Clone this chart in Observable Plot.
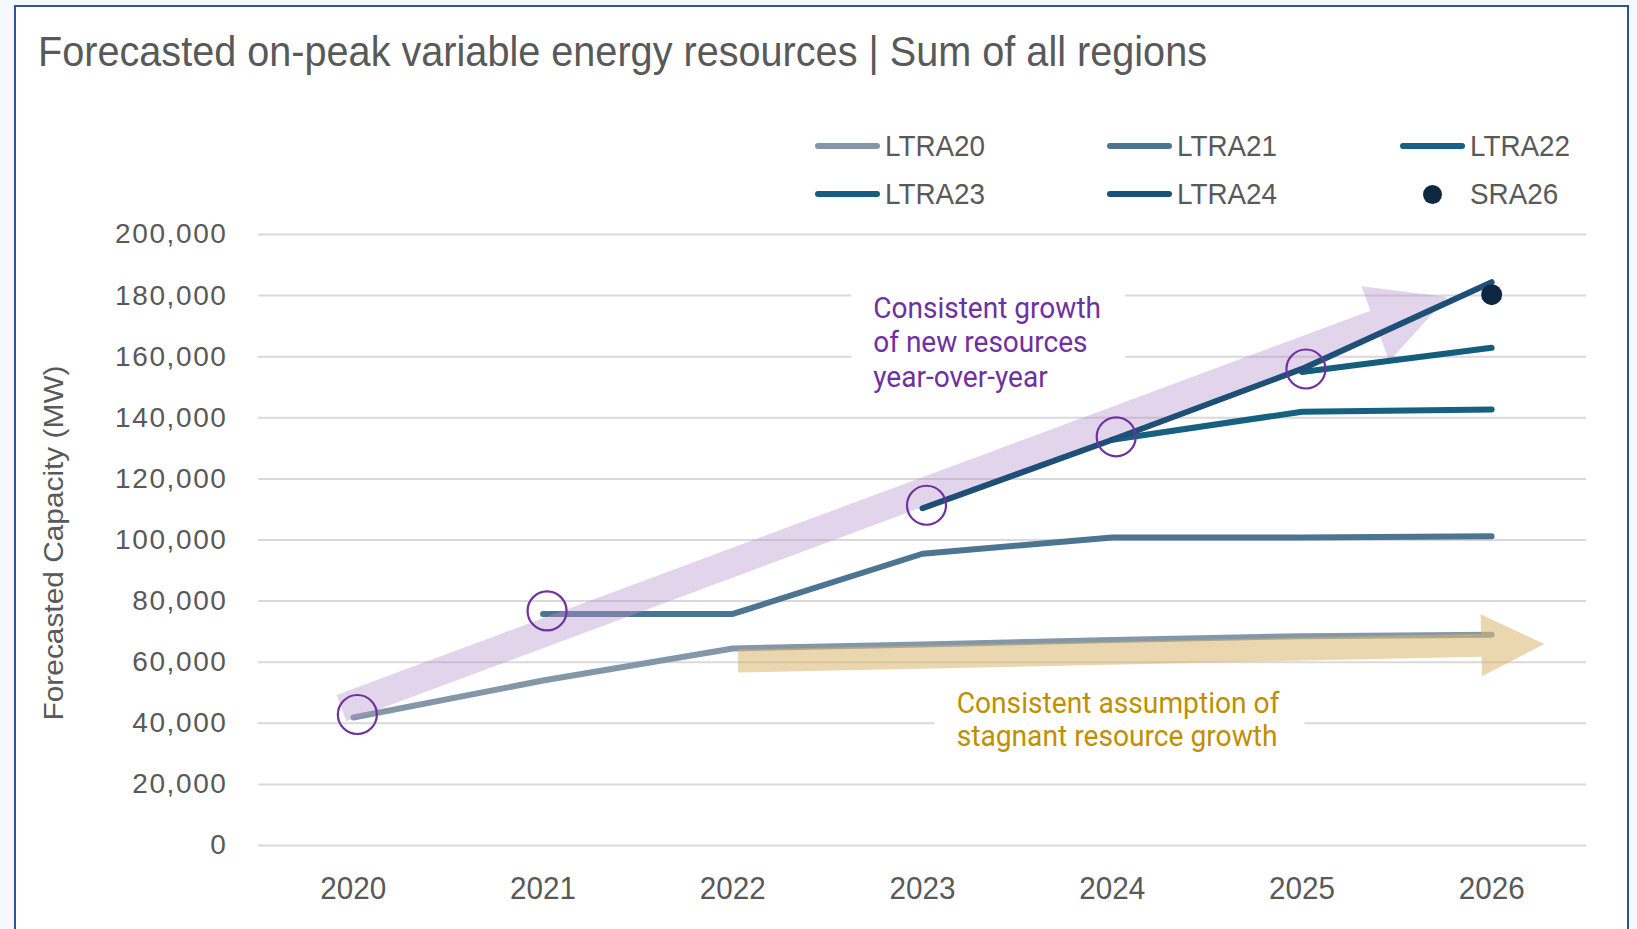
<!DOCTYPE html>
<html><head><meta charset="utf-8">
<script src="https://cdn.jsdelivr.net/npm/d3@7"></script>
<script src="https://cdn.jsdelivr.net/npm/@observablehq/plot@0.6"></script>
<style>
html,body{margin:0;padding:0;}
body{width:1637px;height:929px;overflow:hidden;background:#f4f9fd;position:relative;font-family:"Liberation Sans",Arial,sans-serif;}
#frame{position:absolute;left:14px;top:5px;width:1615px;height:1000px;background:#fff;border:2.5px solid #2f5597;box-sizing:border-box;}
#title{position:absolute;left:38px;top:31px;font-size:42px;line-height:42px;color:#595959;white-space:nowrap;transform-origin:left center;}
.leg{position:absolute;display:flex;align-items:center;height:40px;}
.sw{width:65px;height:6px;border-radius:3px;flex:none;}
.dotbox{width:65px;height:20px;display:flex;justify-content:center;align-items:center;flex:none;}
.dotbox span{display:block;width:19px;height:19px;border-radius:50%;}
.lab{font-size:30px;line-height:30px;color:#595959;white-space:nowrap;transform-origin:left center;margin-left:5px;}
#ylab{position:absolute;left:54px;top:543px;font-size:27px;line-height:27px;color:#595959;white-space:nowrap;}
#chart{position:absolute;left:0;top:210px;}
</style></head><body>
<div id="frame"></div>
<div id="title">Forecasted on-peak variable energy resources | Sum of all regions</div>
<div id="legend"></div>
<div id="ylab">Forecasted Capacity (MW)</div>
<div id="chart"></div>
<script>
// ---------- data ----------
const years = [2020, 2021, 2022, 2023, 2024, 2025, 2026];
const ltra20 = [41900, 54000, 64500, 65800, 67300, 68500, 69000];
const ltra21 = [null, 75800, 75800, 95500, 100800, 100800, 101200];
const ltra22 = [null, null, null, null, 132800, 142000, 142700];
const ltra23 = [null, null, null, null, null, 155000, 162900];
const ltra24 = [null, null, null, 110400, 132800, 156000, 184400];
const sra26  = [null, null, null, null, null, null, 180300];
const seriesNames = ["LTRA20", "LTRA21", "LTRA22", "LTRA23", "LTRA24"];
const sraName = "SRA26";
const yTicks = [0, 20000, 40000, 60000, 80000, 100000, 120000, 140000, 160000, 180000, 200000];
const growthLines = ["Consistent growth", "of new resources", "year-over-year"];
const stagnantLines = ["Consistent assumption of", "stagnant resource growth"];
// annotation anchors (year, MW)
const growthAnchor = [2022.74, 165100];
const stagnantAnchor = [2023.18, 41400];
const growthArrow = {from: [2019.94, 44800], to: [2025.77, 179400]};
const stagnantArrow = {from: [2022.03, 60200], to: [2026.28, 65800]};

// ---------- styles ----------
const seriesColors = ["#8497a9", "#4c7592", "#166080", "#155d7c", "#1e4f77"];
const sraColor = "#0e2841";
const purple = "#7030a0", gold = "#bf8f00";

const seriesValues = [ltra20, ltra21, ltra22, ltra23, ltra24];
const rows = seriesNames.flatMap((name, i) =>
  years.map((year, j) => ({series: name, year, value: seriesValues[i][j]})).filter(d => d.value != null));
const sraRows = years.map((year, j) => ({year, value: sra26[j]})).filter(d => d.value != null);
const starts = seriesNames.map(n => rows.find(d => d.series === n));

const svgNS = "http://www.w3.org/2000/svg";
function arrowMark(spec, o) {
  return (index, scales) => {
    const x0 = scales.x(spec.from[0]), y0 = scales.y(spec.from[1]);
    const x1 = scales.x(spec.to[0]), y1 = scales.y(spec.to[1]);
    const dx = x1 - x0, dy = y1 - y0, L = Math.hypot(dx, dy);
    const ux = dx / L, uy = dy / L, px = -uy, py = ux;
    const bx = x1 - ux * o.headLength, by = y1 - uy * o.headLength;
    const w = o.bodyHalf, h = o.headHalf;
    const pts = [[x0 + px * w, y0 + py * w], [bx + px * w, by + py * w], [bx + px * h, by + py * h], [x1, y1],
                 [bx - px * h, by - py * h], [bx - px * w, by - py * w], [x0 - px * w, y0 - py * w]];
    const p = document.createElementNS(svgNS, "path");
    p.setAttribute("d", "M" + pts.map(q => q[0].toFixed(2) + "," + q[1].toFixed(2)).join("L") + "Z");
    p.setAttribute("fill", o.fill);
    p.setAttribute("fill-opacity", o.opacity);
    return p;
  };
}
const lineFor = i => Plot.line(rows.filter(d => d.series === seriesNames[i]), {
  x: "year", y: "value", stroke: seriesColors[i], strokeWidth: 6, strokeLinecap: "round", strokeLinejoin: "round"
});

const plot = Plot.plot({
  width: 1637, height: 719,
  marginLeft: 258, marginRight: 51, marginTop: 24, marginBottom: 84,
  style: {background: "transparent", color: "#595959", fontFamily: "'Liberation Sans', Arial, sans-serif", overflow: "visible"},
  x: {type: "linear", domain: [2019.5, 2026.5]},
  y: {domain: [0, 200000]},
  marks: [
    Plot.gridY(yTicks, {stroke: "#d9d9d9", strokeOpacity: 1, strokeWidth: 2}),
    Plot.axisY(yTicks, {tickSize: 0, tickPadding: 31, tickFormat: d3.format(","), fontSize: 28, label: null}),
    Plot.axisX(years, {tickSize: 0, tickPadding: 31, tickFormat: d => String(d), fontSize: 32, label: null}),
    lineFor(0), lineFor(1),
    arrowMark(growthArrow, {bodyHalf: 14, headLength: 77, headHalf: 40, fill: "#b393cc", opacity: 0.4}),
    arrowMark(stagnantArrow, {bodyHalf: 11.5, headLength: 63, headHalf: 31, fill: "#d9b66e", opacity: 0.55}),
    lineFor(2), lineFor(3), lineFor(4),
    Plot.dot(sraRows, {x: "year", y: "value", r: 10.5, fill: sraColor}),
    Plot.dot(starts, {x: "year", y: "value", r: 19.5, stroke: purple, strokeWidth: 2.2, fill: "none", dx: 4, dy: -3}),
    Plot.text([growthLines.join("\n")], {x: () => growthAnchor[0], y: () => growthAnchor[1], text: d => d,
      textAnchor: "start", lineAnchor: "middle", lineHeight: 1.15, fontSize: 30, fontFamily: "Roboto", fill: purple}),
    Plot.text([stagnantLines.join("\n")], {x: () => stagnantAnchor[0], y: () => stagnantAnchor[1], text: d => d,
      textAnchor: "start", lineAnchor: "middle", lineHeight: 1.1, fontSize: 30, fontFamily: "Roboto", fill: gold})
  ]
});
document.getElementById("chart").append(plot);

// ---------- text fitting ----------
const svg = plot.tagName.toLowerCase() === "svg" ? plot : plot.querySelector("svg");
// y tick labels: wider tracking
svg.querySelectorAll('g[aria-label="y-axis tick label"] text').forEach(t => { t.style.letterSpacing = "1.6px"; });
// x tick labels: fit "2020" to 66px
const xt = [...svg.querySelectorAll('g[aria-label="x-axis tick label"] text')];
if (xt.length) {
  const r = 66 / xt[0].getComputedTextLength();
  xt.forEach(t => { t.setAttribute("textLength", (t.getComputedTextLength() * r).toFixed(1)); t.setAttribute("lengthAdjust", "spacingAndGlyphs"); });
}
// annotations: squeeze to width & add white boxes behind (above grid)
const textGroups = [...svg.querySelectorAll('g[aria-label="text"]')];
const targets = [228, 323];
const gridG = svg.querySelector('g[aria-label="y-grid"]');
const svgRect = svg.getBoundingClientRect();
textGroups.forEach((g, k) => {
  const t = g.querySelector("text");
  const first = t.querySelector("tspan") || t;
  const r = targets[k] / first.getComputedTextLength();
  const inner = document.createElementNS(svgNS, "g");
  t.parentNode.insertBefore(inner, t);
  inner.append(t);
  const bb = inner.getBBox();
  const ax = bb.x;
  inner.setAttribute("transform", `translate(${ax},0) scale(${r},1) translate(${-ax},0)`);
  const cr = inner.getBoundingClientRect();
  const rect = document.createElementNS(svgNS, "rect");
  rect.setAttribute("x", cr.left - svgRect.left - 22);
  rect.setAttribute("y", cr.top - svgRect.top - 4);
  rect.setAttribute("width", cr.width + 46);
  rect.setAttribute("height", cr.height + 8);
  rect.setAttribute("fill", "#fff");
  gridG.after(rect);
});

// ---------- legend ----------
const legend = document.getElementById("legend");
const items = seriesNames.map((n, i) => ({name: n, color: seriesColors[i], kind: "line"}))
  .concat([{name: sraName, color: sraColor, kind: "dot"}]);
const labs = [];
items.forEach((it, i) => {
  const col = i % 3, row = Math.floor(i / 3);
  const d = document.createElement("div");
  d.className = "leg";
  d.style.left = (815 + col * 292.3) + "px";
  d.style.top = (146 + row * 48 - 20) + "px";
  if (it.kind === "line") {
    const s = document.createElement("div"); s.className = "sw"; s.style.background = it.color; d.append(s);
  } else {
    const s = document.createElement("div"); s.className = "dotbox";
    const sp = document.createElement("span"); sp.style.background = it.color; s.append(sp); d.append(s);
  }
  const l = document.createElement("div"); l.className = "lab"; l.textContent = it.name; d.append(l);
  legend.append(d); labs.push(l);
});
const lr = 100 / labs[0].getBoundingClientRect().width;
labs.forEach(l => l.style.transform = `scaleX(${lr})`);

// ---------- title & y label fit ----------
const title = document.getElementById("title");
title.style.transform = `scaleX(${1169 / title.getBoundingClientRect().width})`;
const yl = document.getElementById("ylab");
const yr = 355 / yl.getBoundingClientRect().width;
yl.style.transform = `translate(-50%,-50%) rotate(-90deg) scale(${yr},1)`;
</script>
</body></html>
